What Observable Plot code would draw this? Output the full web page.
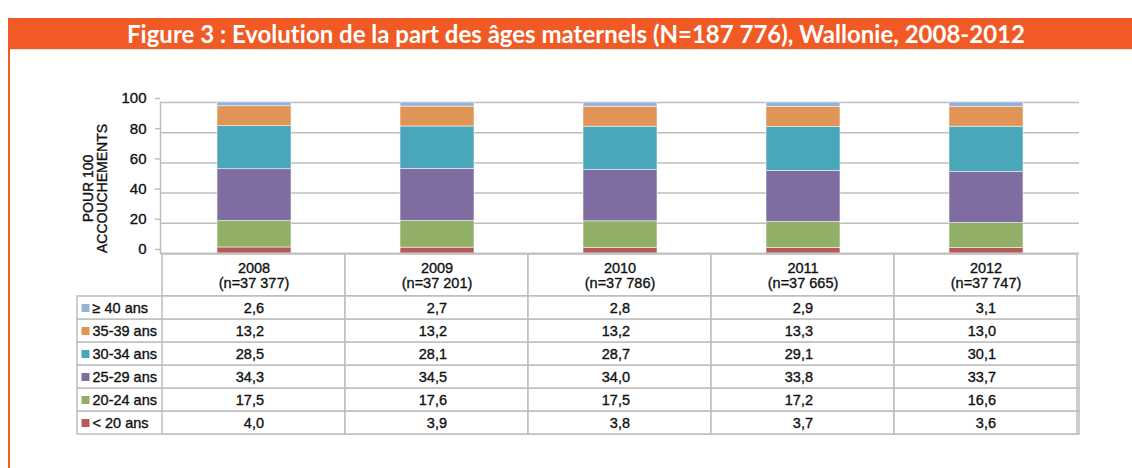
<!DOCTYPE html>
<html>
<head>
<meta charset="utf-8">
<script src="https://cdn.jsdelivr.net/npm/d3@7"></script>
<script src="https://cdn.jsdelivr.net/npm/@observablehq/plot@0.6"></script>
<style>
  html, body { margin: 0; padding: 0; background: #fff; }
  body { width: 1132px; height: 468px; position: relative; overflow: hidden; }
  #banner {
    position: absolute; left: 8px; top: 18px; width: 1112px; height: 31px; padding-left: 12px;
    background: #F15A24; color: #fff; text-align: center;
    font-family: Lato, "Open Sans", sans-serif; font-weight: 700; font-size: 24px;
    line-height: 31px; white-space: nowrap; font-variant-ligatures: none;
  }
  #leftline { position: absolute; left: 8px; top: 49px; width: 2px; height: 419px; background: #F15A24; }
  #topline { position: absolute; left: 10px; top: 49px; width: 1122px; height: 1px; background: #e2e2e2; }
  .part { position: absolute; left: 0; }
  svg text { paint-order: stroke; }
</style>
</head>
<body>
<div id="banner">Figure 3 : Evolution de la part des âges maternels (N=187 776), Wallonie, 2008-2012</div>
<div id="leftline"></div>
<div id="topline"></div>
<div id="chart" class="part" style="top:80px"></div>
<div id="header" class="part" style="top:253px"></div>
<div id="body" class="part" style="top:295px"></div>
<script>
// ---- data ----
const years = ["2008", "2009", "2010", "2011", "2012"];
const nLabels = ["(n=37 377)", "(n=37 201)", "(n=37 786)", "(n=37 665)", "(n=37 747)"];
const ageGroups = ["< 20 ans", "20-24 ans", "25-29 ans", "30-34 ans", "35-39 ans", "≥ 40 ans"];
const lt20   = [4.0, 3.9, 3.8, 3.7, 3.6];
const a20_24 = [17.5, 17.6, 17.5, 17.2, 16.6];
const a25_29 = [34.3, 34.5, 34.0, 33.8, 33.7];
const a30_34 = [28.5, 28.1, 28.7, 29.1, 30.1];
const a35_39 = [13.2, 13.2, 13.2, 13.3, 13.0];
const ge40   = [2.6, 2.7, 2.8, 2.9, 3.1];
const yTicks = [0, 20, 40, 60, 80, 100];
const yLabel = "POUR 100\nACCOUCHEMENTS";
const colors = ["#B65A56", "#92AF68", "#7F6DA2", "#4AA7B9", "#E09456", "#97B2D7"];

const seriesValues = [lt20, a20_24, a25_29, a30_34, a35_39, ge40];
const tidy = [];
ageGroups.forEach((age, gi) => {
  years.forEach((year, yi) => tidy.push({age, year, value: seriesValues[gi][yi]}));
});
const fmt = v => v.toFixed(1).replace(".", ",");

const W = 1132, ML = 160, MR = 53;
const grid = "#BEBEBE";
const ink = "#111";
const bold = {stroke: ink, strokeWidth: 0.35};
const font = {fontFamily: '"Liberation Sans", Arial, sans-serif', fontSize: "14.5px", color: ink, background: "transparent"};
const colorScale = {domain: ageGroups, range: colors};

// ---- chart ----
const chart = Plot.plot({
  width: W, height: 180,
  marginLeft: ML, marginRight: MR, marginTop: 22, marginBottom: 7,
  style: font,
  x: {domain: years, paddingInner: 0.597, paddingOuter: 0.2985, axis: null},
  y: {domain: [0, 100], ticks: yTicks},
  color: colorScale,
  marks: [
    Plot.gridY(yTicks, {stroke: grid, strokeOpacity: 1, strokeWidth: 1.5}),
    Plot.axisY(yTicks, {tickSize: 5, tickPadding: 9, stroke: grid, strokeWidth: 1.5, dy: -4, label: null, tickFormat: d => d, fontSize: 15, textStroke: ink, textStrokeWidth: 0.35}),
    Plot.frame({anchor: "left", stroke: grid, strokeWidth: 1.5}),
    Plot.barY(tidy, {x: "year", y: "value", fill: "age", order: ageGroups, stroke: "#f4f4f4", strokeWidth: 0.6}),
    Plot.ruleY([0], {stroke: grid, strokeWidth: 1.5}),
    Plot.text([yLabel], {text: d => d, frameAnchor: "left", textAnchor: "middle", rotate: -90, dx: -64.5, dy: 10.5, lineHeight: 1.0, fontSize: 14, fill: ink, ...bold})
  ]
});
document.getElementById("chart").append(chart);

// ---- table header ----
const header = Plot.plot({
  width: W, height: 44,
  marginLeft: ML, marginRight: MR, marginTop: 1, marginBottom: 1,
  style: font,
  x: {domain: years, padding: 0, axis: null},
  marks: [
    Plot.cell(years, {x: d => d, fill: "white", stroke: grid, strokeWidth: 1.5}),
    Plot.text(years, {x: d => d, text: (d, i) => d + "\n" + nLabels[i], frameAnchor: "middle", lineHeight: 1.05, fill: ink, ...bold})
  ]
});
document.getElementById("header").append(header);

// ---- table body ----
const body = Plot.plot({
  width: W, height: 140,
  marginLeft: 77, marginRight: MR, marginTop: 1, marginBottom: 1,
  style: font,
  x: {domain: years, padding: 0, range: [ML, W - MR], axis: null},
  y: {domain: ageGroups.slice().reverse(), padding: 0, axis: null},
  color: colorScale,
  marks: [
    Plot.cell(ageGroups, {y: d => d, fill: "white", stroke: grid, strokeWidth: 1.5}),
    Plot.cell(tidy, {x: "year", y: "age", fill: "white", stroke: grid, strokeWidth: 1.5}),
    Plot.dot(ageGroups, {y: d => d, frameAnchor: "left", dx: 8, symbol: "square", r: 4.5, fill: d => d}),
    Plot.text(ageGroups, {y: d => d, text: d => d, frameAnchor: "left", textAnchor: "start", dx: 15, fill: ink, ...bold}),
    Plot.text(tidy, {x: "year", y: "age", text: d => fmt(d.value), textAnchor: "end", dx: 10, fill: ink, ...bold})
  ]
});
document.getElementById("body").append(body);
</script>
</body>
</html>
